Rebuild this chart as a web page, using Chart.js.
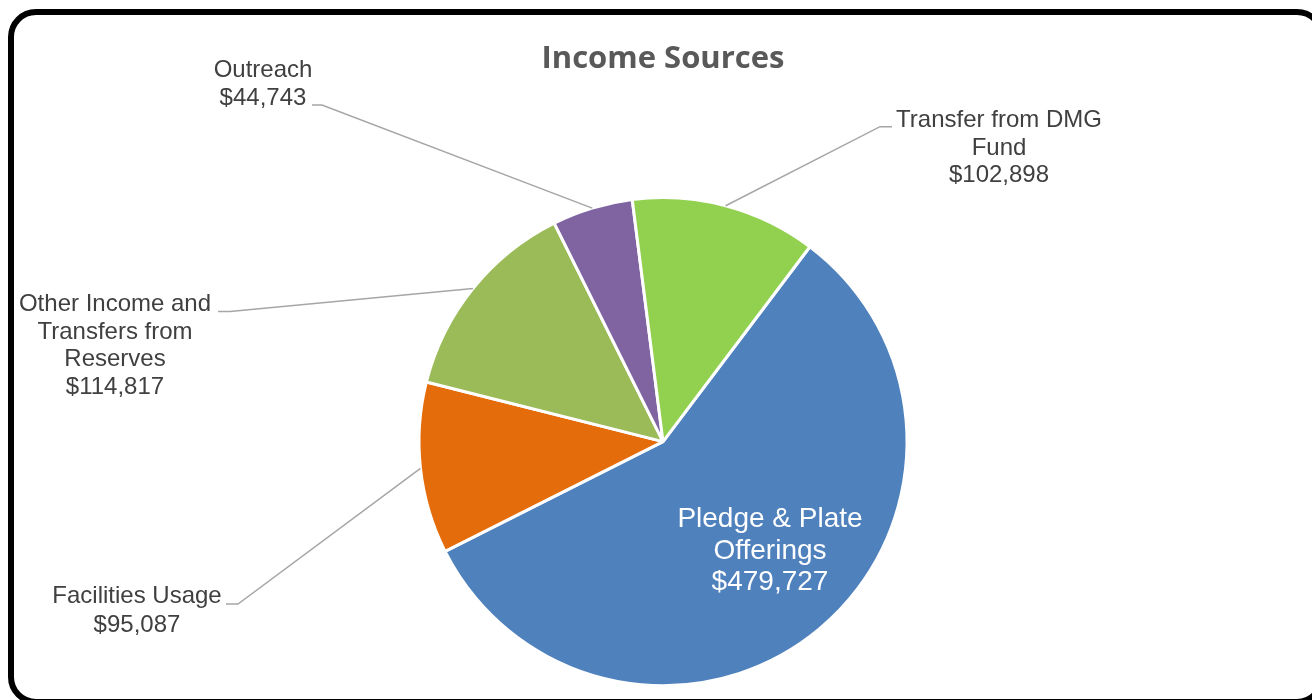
<!DOCTYPE html>
<html>
<head>
<meta charset="utf-8">
<title>Income Sources</title>
<script src="https://cdn.jsdelivr.net/npm/chart.js@4/dist/chart.umd.min.js"></script>
<style>
    html, body {
        margin: 0;
        padding: 0;
        width: 1312px;
        height: 700px;
        overflow: hidden;
        background: #fff;
    }
    .frame {
        position: absolute;
        left: 8px;
        top: 9px;
        width: 1317px;
        height: 696px;
        box-sizing: border-box;
        border: 6px solid #000;
        border-radius: 28px;
    }
    #incomeChart {
        position: absolute;
        left: 0;
        top: 0;
    }
</style>
</head>
<body>
<div class="frame"></div>
<canvas id="incomeChart" width="1312" height="700"></canvas>

<script>
/* =====================================================
   DATA
===================================================== */

const categories = [
    "Pledge & Plate Offerings",
    "Facilities Usage",
    "Other Income and Transfers from Reserves",
    "Outreach",
    "Transfer from DMG Fund"
];

const amounts = [479727, 95087, 114817, 44743, 102898];

const sliceColors = ["#4F81BD", "#E46C0A", "#9BBB59", "#8064A2", "#92D050"];


/* =====================================================
   LABEL PLACEMENT
   x = centre of text block, y = first baseline,
   lead = where the leader line meets the text
===================================================== */

const labelLayout = [
    { x: 770, y: 527, lineHeight: 31.5, size: 28, color: "#FFFFFF", wrap: 200 },
    { x: 137, y: 603, lineHeight: 28.5, size: 24, color: "#404040", wrap: 200,
      lead: { x: 226, y: 604, dx: 12 } },
    { x: 115, y: 311, lineHeight: 27.7, size: 24, color: "#404040", wrap: 200,
      lead: { x: 218, y: 311.5, dx: 12 } },
    { x: 263, y: 77, lineHeight: 28, size: 24, color: "#404040", wrap: 120,
      lead: { x: 312, y: 105, dx: 10 } },
    { x: 999, y: 127, lineHeight: 27.6, size: 24, color: "#404040", wrap: 215,
      lead: { x: 892, y: 126.7, dx: -12 } }
];


/* =====================================================
   HELPERS
===================================================== */

function money(v) {
    return "$" + v.toLocaleString("en-US");
}

function wrapWords(ctx, text, maxWidth) {
    const words = text.split(" ");
    const lines = [];
    let line = "";
    words.forEach(w => {
        const test = line ? line + " " + w : w;
        if (line && ctx.measureText(test).width > maxWidth) {
            lines.push(line);
            line = w;
        } else {
            line = test;
        }
    });
    if (line) lines.push(line);
    return lines;
}


/* =====================================================
   SLICE LABELS + LEADER LINES
===================================================== */

const sliceLabels = {
    id: "sliceLabels",
    afterDatasetsDraw(chart) {
        const ctx = chart.ctx;
        const arcs = chart.getDatasetMeta(0).data;

        ctx.save();
        arcs.forEach((arc, i) => {
            const cfg = labelLayout[i];
            if (!cfg) return;

            // leader line: edge of slice at mid angle -> elbow -> text
            if (cfg.lead) {
                const mid = (arc.startAngle + arc.endAngle) / 2;
                const ex = arc.x + Math.cos(mid) * arc.outerRadius;
                const ey = arc.y + Math.sin(mid) * arc.outerRadius;
                ctx.strokeStyle = "#A6A6A6";
                ctx.lineWidth = 1.5;
                ctx.beginPath();
                ctx.moveTo(ex, ey);
                ctx.lineTo(cfg.lead.x + cfg.lead.dx, cfg.lead.y);
                ctx.lineTo(cfg.lead.x, cfg.lead.y);
                ctx.stroke();
            }

            ctx.font = cfg.size + "px 'Liberation Sans', Arial, sans-serif";
            ctx.fillStyle = cfg.color;
            ctx.textAlign = "center";
            ctx.textBaseline = "alphabetic";

            const lines = wrapWords(ctx, categories[i], cfg.wrap);
            lines.push(money(amounts[i]));
            lines.forEach((t, n) => {
                ctx.fillText(t, cfg.x, cfg.y + n * cfg.lineHeight);
            });
        });
        ctx.restore();
    }
};


/* =====================================================
   CHART
===================================================== */

Chart.defaults.font.family = "'Liberation Sans', Arial, sans-serif";

new Chart(document.getElementById("incomeChart"), {
    type: "pie",
    data: {
        labels: categories,
        datasets: [{
            data: amounts,
            backgroundColor: sliceColors,
            borderColor: "#FFFFFF",
            borderWidth: 3
        }]
    },
    options: {
        responsive: false,
        animation: false,
        rotation: 37,
        radius: 244,
        layout: { padding: { left: 14, right: 0, top: 0, bottom: 15 } },
        plugins: {
            legend: { display: false },
            tooltip: { enabled: false },
            title: {
                display: true,
                text: "Income Sources",
                color: "#595959",
                font: { family: "'Open Sans', sans-serif", size: 31, weight: "bold" },
                padding: { top: 41, bottom: 120 }
            }
        }
    },
    plugins: [sliceLabels]
});
</script>
</body>
</html>
